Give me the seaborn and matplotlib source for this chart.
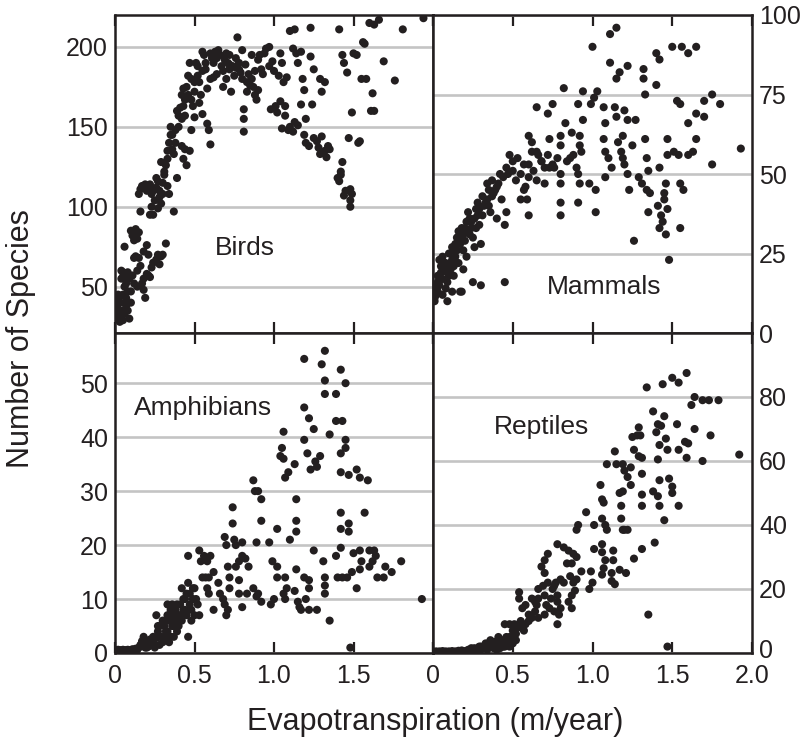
import matplotlib
matplotlib.use("Agg")
import matplotlib.pyplot as plt
import matplotlib.transforms as mtransforms
import seaborn as sns
import pandas as pd

# ---------------- data ----------------
birds_x = [0.01,0.02,0.02,0.03,0.03,0.04,0.04,0.05,0.01,0.03,0.05,0.04,0.05,0.02,0.04,0.05,0.06,
           0.06,0.07,0.07,0.08,0.08,0.09,0.06,0.10,0.09,0.10,
           0.10,0.11,0.12,0.13,0.14,0.15,0.12,0.13,0.15,
           0.15,0.16,0.17,0.16,0.17,0.18,0.19,0.18,0.20,0.19,0.20,
           0.21,0.22,0.23,0.21,0.22,0.23,0.24,0.22,0.24,0.25,0.23,
           0.26,0.27,0.28,0.29,0.26,0.27,0.28,0.29,0.30,0.27,0.30,0.29,
           0.31,0.32,0.33,0.33,0.32,0.34,0.34,0.35,0.35,
           0.36,0.37,0.38,0.38,0.37,0.39,0.40,0.39,
           0.41,0.42,0.43,0.42,0.44,0.42,0.43,0.44,0.45,0.45,0.44,
           0.46,0.47,0.48,0.48,0.49,0.47,0.48,0.50,0.50,
           0.51,0.52,0.53,0.53,0.54,0.55,0.55,0.55,
           0.56,0.57,0.58,0.58,0.59,0.60,0.60,0.60,
           0.61,0.62,0.63,0.64,0.62,0.65,
           0.66,0.67,0.68,0.69,0.70,0.68,0.70,
           0.71,0.72,0.73,0.74,0.75,0.72,
           0.77,0.76,0.78,0.79,0.80,0.80,
           0.81,0.81,0.81,0.82,0.83,0.84,0.85,
           0.86,0.87,0.88,0.89,0.90,0.88,0.90,
           0.91,0.92,0.93,0.94,0.95,
           0.97,0.98,0.99,1.00,0.97,
           1.01,1.02,1.03,1.04,1.05,1.05,1.04,
           1.07,1.07,1.08,1.09,1.10,1.06,1.10,
           1.12,1.13,1.14,1.15,1.13,1.12,1.15,
           1.17,1.18,1.19,1.20,1.20,1.19,1.17,
           1.23,1.23,1.24,1.25,1.22,1.25,
           1.27,1.28,1.29,1.30,1.30,1.29,
           1.32,1.32,1.33,1.34,1.35,
           1.41,1.40,1.41,1.42,1.43,1.44,1.43,1.42,1.45,1.44,
           1.46,1.47,1.48,1.48,1.49,1.48,1.49,1.50,
           1.52,1.53,1.54,1.56,1.57,1.55,1.58,1.60,
           1.61,1.63,1.63,1.62,1.66,1.69,
           1.76,1.81,1.94,
           0.02,0.06,0.07,0.08,0.11,0.12,0.14,0.14,0.16,0.18,0.20,0.21,0.24,0.26,0.28,
           0.30,0.31,0.33,0.36,0.40,0.43,0.46,0.50,0.52,0.57,0.64,0.72,0.76,0.78,0.83,0.86]
birds_y = [33,30,36,28,40,32,35,29,38,44,45,55,59,42,60,56,75,
           50,43,38,35,59,55,33,47,30,40,
           85,82,79,86,80,84,68,69,68,
           108,111,113,97,52,55,43,48,58,114,110,
           112,114,108,57,56,62,65,95,95,104,100,
           118,116,106,102,67,70,64,69,70,99,108,128,
           120,126,130,113,77,108,140,145,150,
           136,133,148,140,97,160,157,118,
           162,170,174,155,157,138,130,136,126,175,167,
           182,190,180,167,163,135,148,156,172,
           190,188,178,165,170,197,158,185,
           195,186,174,152,148,196,139,180,
           193,190,197,183,181,198,
           195,188,185,192,180,175,196,
           190,186,172,188,182,195,
           206,193,190,184,180,198,
           161,155,147,189,178,183,176,
           195,175,170,167,173,185,192,
           195,186,183,196,199,
           200,161,191,185,188,
           163,159,182,196,190,149,166,
           163,157,181,148,150,178,210,
           199,153,196,190,211,147,151,
           197,180,173,140,155,145,164,
           212,194,164,143,138,186,
           141,137,180,172,144,133,
           178,135,131,138,136,
           211,118,116,120,195,190,128,122,110,107,
           184,143,104,100,108,111,159,196,
           195,140,141,203,202,180,180,215,
           160,160,214,171,217,191,
           179,211,218,
           45,40,52,47,57,52,60,50,63,72,76,70,110,112,110,
           115,122,135,145,150,163,170,178,182,190,193,189,187,186,172,180]

mammals_x = [0.01,0.02,0.03,0.02,0.01,0.03,
             0.04,0.05,0.06,0.04,0.06,
             0.08,0.09,0.10,0.12,0.11,
             0.10,0.11,0.13,0.14,0.12,
             0.17,0.18,
             0.15,0.16,0.17,0.19,0.18,
             0.25,0.30,0.45,
             0.24,0.25,0.27,0.28,0.30,0.26,0.23,0.29,0.22,
             0.32,0.34,0.36,0.38,0.40,0.35,0.31,
             0.34,0.37,0.40,
             0.43,0.46,0.45,
             0.48,0.50,
             0.52,0.55,0.57,0.60,0.60,0.55,
             0.59,0.60,0.60,0.62,0.65,0.65,0.65,0.70,
             0.68,0.72,0.73,0.72,0.75,0.73,
             0.76,0.80,0.78,0.80,0.80,0.80,0.80,0.80,
             0.82,0.83,0.87,0.88,0.90,0.93,0.91,0.91,0.91,
             0.92,0.92,0.94,0.94,0.92,0.98,0.99,1.00,1.01,1.03,
             1.02,1.02,1.07,1.08,1.07,1.08,1.10,1.12,1.08,
             1.11,1.15,1.11,1.14,1.15,1.17,1.15,
             1.16,1.18,1.20,1.22,1.19,1.19,1.20,1.22,1.22,1.23,1.25,1.26,1.27,
             1.29,1.31,1.32,1.32,1.33,1.33,1.34,1.35,1.34,1.36,1.35,
             1.40,1.42,1.40,1.42,1.41,1.43,1.44,1.42,1.47,1.46,1.45,1.45,1.46,1.47,1.47,1.48,
             1.50,1.51,1.53,1.55,1.54,1.55,1.57,1.55,1.56,
             1.60,1.60,1.60,1.63,1.65,1.65,1.65,1.70,1.70,1.75,1.75,1.80,1.93,
             0.50,0.53,0.57,0.62,0.66,0.70,0.75,0.84,0.86,0.58,0.63,0.68,
             0.02,0.03,0.05,0.07,0.08,0.09,0.10,0.12,0.13,0.14,0.15,0.16,0.18,0.19,0.20,
             0.20,0.21,0.22,0.23,0.24,0.26,0.27,0.28,0.29,0.31,0.33,0.35,0.37,0.39,0.41,
             0.42,0.44,0.46,0.47,0.06,0.09,0.13,0.16,0.21,0.19]
mammals_y = [11,12,13,15,10,18,
             23,19,17,15,24,
             14,16,18,13,20,
             25,22,26,24,27,
             13,13,
             30,32,28,26,33,
             16,15,16,
             35,30,33,37,28,27,31,34,38,
             40,42,38,44,36,45,43,
             47,48,46,
             42,38,34,
             56,54,
             48,50,45,49,53,42,
             42,37,62,60,57,71,48,47,
             54,56,52,69,72,61,
             52,50,55,62,59,47,41,37,
             77,66,63,56,52,57,50,41,72,
             62,59,76,67,47,47,72,90,74,76,
             45,38,71,66,61,57,55,52,49,
             94,96,85,71,80,82,68,
             60,57,53,50,55,62,70,67,84,45,59,29,67,
             49,47,83,80,75,61,55,51,45,44,38,
             88,86,78,52,40,37,35,33,39,31,44,42,47,61,56,23,
             90,57,73,72,56,47,45,33,90,
             88,66,56,57,90,69,61,73,68,75,53,72,58,
             51,55,53,57,56,52,53,54,55,46,51,54,
             14,16,21,20,22,19,21,23,21,28,26,29,30,31,29,
             33,35,32,36,33,36,39,41,39,37,41,40,43,45,47,
             50,49,52,50,12,10,18,22,24,20]

amph_x = [0.00,0.01,0.02,0.03,0.04,0.05,0.06,0.07,0.08,0.09,0.10,0.11,0.12,0.13,0.14,0.15,
          0.16,0.17,0.18,0.19,0.20,0.21,0.22,0.23,0.24,0.25,0.26,0.27,0.28,
          0.26,0.27,
          0.28,0.30,0.31,0.32,0.33,0.34,0.35,0.36,0.37,0.38,0.39,0.40,0.33,0.36,0.39,
          0.41,0.42,0.43,0.44,0.45,0.46,0.47,0.48,0.49,0.50,0.46,0.50,0.52,0.53,
          0.46,0.53,0.54,0.56,0.58,0.60,0.55,0.57,0.59,
          0.58,0.59,0.62,0.62,0.65,
          0.66,0.68,0.69,0.70,0.71,0.69,0.70,0.71,0.72,
          0.74,0.74,0.75,0.76,0.72,0.76,0.78,0.78,0.78,0.80,0.80,0.80,0.82,0.84,0.83,
          0.87,0.88,0.90,0.92,0.92,0.89,0.87,0.90,0.92,0.89,
          0.97,0.98,0.99,1.00,1.02,1.02,1.02,
          1.04,1.06,1.07,1.05,1.06,1.07,1.06,1.08,1.07,1.09,1.10,
          1.13,1.14,1.14,1.14,1.14,1.13,1.15,1.16,1.17,
          1.19,1.19,1.22,1.19,1.21,1.23,1.26,1.27,1.19,1.22,1.22,1.20,1.22,1.25,1.25,1.27,
          1.29,1.30,1.32,1.32,1.32,1.31,1.32,1.32,1.32,1.35,1.35,
          1.39,1.39,1.43,1.39,1.40,1.42,1.42,1.42,1.42,1.42,1.42,1.43,1.46,
          1.45,1.45,1.45,1.47,1.47,1.47,1.48,1.49,1.50,1.52,1.52,1.54,1.54,1.54,1.55,
          1.57,1.59,1.60,1.60,1.62,1.63,1.64,1.65,1.69,1.70,1.74,1.80,1.93,
          0.30,0.31,0.33,0.34,0.35,0.36,0.37,0.38,0.40,0.41,0.42,0.43,0.44,0.45,0.47,
          0.48,0.49,0.51,0.29,0.32,0.24,0.20,0.35]
amph_y = [0.5,0.5,0.6,0.5,0.5,0.6,0.5,0.5,0.6,0.5,0.5,0.7,0.5,0.8,0.6,1.0,
          1.5,2.2,3.0,1.0,2.0,1.2,2.5,1.6,3.0,1.0,2.8,4.0,1.5,
          7,5,
          5,6,3,4,7,2,8,5,3,6,4,7,9,9,9,
          7,12,10,8,11,13,9,6,10,12,3,7,9,7,
          18,19,17,18,17,18,14,14,14,
          12,11,8,15,13,
          11,10,9,7,8,21.5,20,16,14,
          27,24,21,20,12,16,17,13.5,11,8.5,20.5,18,17.5,16,11,
          32,30,30,28.5,24.5,20.5,12,11,9.5,10.5,
          20.5,9,17,10,23,16,14,
          36.5,36,32.5,38,41,14,11,12,10,33.5,21,
          35,28.5,24.5,22.5,15.5,11.5,9.5,8.5,8,
          54.5,45.5,43.5,39.5,37,34,35.5,34.5,14,13.5,12,10,8,41.5,19,8,
          36.5,53.5,56,50.5,48,17,14,12.5,11,40.5,6,
          48,43,43,18,14,52.5,37,33.5,26,23,19.5,14,14,
          50,39.5,38,33,24,22.5,1,15,18.5,34,12,32.5,15.5,19,17,
          26,32,19,16,17,19,18,14,14,16,15,17,10,
          2,5,4,6,3,7,5,8,5,9,6,8,10,7,11,
          8,12,10,3,6,2,1,6]

rept_x = [0.00,0.02,0.04,0.06,0.08,0.10,0.12,0.14,0.16,0.18,0.20,0.22,0.24,0.25,0.26,0.27,0.28,0.29,0.30,
          0.24,0.27,0.30,0.32,0.33,0.34,0.35,0.36,0.37,0.38,0.39,0.40,0.41,0.42,0.43,0.44,0.45,0.46,0.47,
          0.45,0.48,0.48,0.50,0.52,0.50,
          0.53,0.55,0.57,0.60,0.54,0.54,0.56,0.58,
          0.62,0.64,0.66,0.65,0.66,
          0.68,0.70,0.72,0.70,0.69,0.72,0.71,0.70,0.74,
          0.75,0.77,0.78,0.78,0.80,0.78,0.79,0.80,0.76,0.78,
          0.82,0.85,0.88,0.90,0.84,0.87,0.86,0.88,0.90,0.87,0.89,0.85,0.87,
          0.91,0.90,0.96,0.93,0.98,1.00,0.99,1.01,1.01,
          1.05,1.06,1.07,1.06,1.08,1.09,1.06,1.06,1.08,1.07,1.06,1.09,
          1.13,1.13,1.12,1.12,1.14,1.14,1.15,
          1.19,1.20,1.22,1.24,1.17,1.19,1.18,1.18,1.20,1.22,1.19,1.17,1.21,
          1.24,1.25,1.28,1.30,1.26,1.29,1.29,1.31,1.31,1.31,1.31,1.26,1.31,
          1.34,1.35,1.38,1.41,1.43,1.40,1.42,1.38,1.41,1.42,1.39,1.41,1.42,
          1.44,1.45,1.46,1.47,1.45,1.47,1.48,1.50,1.50,1.50,
          1.53,1.54,1.54,1.54,1.58,1.60,1.59,1.59,1.62,1.64,1.64,1.69,1.73,1.69,1.74,1.79,1.92,
          0.36,0.38,0.40,0.42,0.44,0.46,0.48,0.50,0.51,0.52,0.55,0.58,0.60,0.62,0.64,
          0.66,0.70,0.73,0.76,0.82]
rept_y = [0.5,0.5,0.5,0.6,0.5,0.5,0.6,0.5,0.7,0.8,0.6,1.0,1.2,0.5,1.5,0.8,1.4,2.0,1.0,
          1.5,1.0,2.0,1.5,3.0,1.0,2.5,4.0,2.0,1.5,3.5,2.5,5.0,1.5,3.0,4.0,2.0,5.0,3.5,
          9,9,5,3,6,7,
          8,10,7,10,19,17,14,15,
          17,13,11,15,20,
          27,29,31,25,21,22,15,12,17,
          20,22,18,16,14,9,12,23,13,34,
          33,32,31,30,28,28,24,22,23,18,19.5,16,14,
          40,38.5,44,25.5,20,22,25.5,40,32.5,
          52.5,48,47,42,40,38.5,34,31.5,29,26.5,24.5,59,
          32,29,25,22.5,21.5,63,59,
          59,57,55,58,50,50.5,46,42,38.5,38.5,38.5,26,25,
          52.5,67.5,68,68,63.5,70.5,61.5,61,56,49.5,46,29.5,32.5,
          83,12,75.5,71.5,71,69,65,50.5,49,46,34.5,60.5,54,
          84,74,67,63.5,41.5,2,54.5,52,50,86,
          71.5,63.5,46,84.5,66,65.5,87.5,61,77.5,80,70,79,79,60,68,79,62,
          2,3,1,4,2,3,2,5,9,4,8,9,12,11,16,
          17,18,14,21,22]

# ---------------- style ----------------
sns.set_style("white")
plt.rcParams['font.family'] = ['Liberation Sans', 'DejaVu Sans']

INK = "#231f20"
GRID = "#c4c4c4"

fig = plt.figure(figsize=(8.06, 7.43), dpi=100)
W, H = 806.0, 743.0

def axes_px(x0, y0, x1, y1):
    return fig.add_axes([x0 / W, 1 - y1 / H, (x1 - x0) / W, (y1 - y0) / H])

ax_b = axes_px(115, 15, 433, 333)
ax_m = axes_px(433, 15, 752, 333)
ax_a = axes_px(115, 333, 433, 653)
ax_r = axes_px(433, 333, 752, 653)

panels = [
    (ax_b, birds_x, birds_y, (21, 220), [50, 100, 150, 200], "Birds", (0.409, 0.267), 'left', False, None),
    (ax_m, mammals_x, mammals_y, (0, 100), [0, 25, 50, 75, 100], "Mammals", (0.536, 0.145), 'right', False, None),
    (ax_a, amph_x, amph_y, (0, 59.3), [0, 10, 20, 30, 40, 50], "Amphibians", (0.277, 0.766), 'left', True,
     ['0', '0.5', '1.0', '1.5', '']),
    (ax_r, rept_x, rept_y, (0, 100), [0, 20, 40, 60, 80], "Reptiles", (0.339, 0.706), 'right', True,
     ['0', '0.5', '1.0', '1.5', '2.0']),
]

xticks = [0, 0.5, 1.0, 1.5, 2.0]

for ax, xs, ys, ylim, yticks, name, pos, side, showx, xlabels in panels:
    df = pd.DataFrame({"x": xs, "y": ys})
    ax.set_axisbelow(True)
    sns.scatterplot(data=df, x="x", y="y", ax=ax, color=INK, s=34,
                    edgecolor="none", linewidth=0, zorder=3, legend=False)
    ax.set_xlim(0, 2.0)
    ax.set_ylim(*ylim)
    ax.set_xticks(xticks)
    ax.set_yticks(yticks)
    ax.yaxis.grid(True, color=GRID, linewidth=1.9)
    ax.xaxis.grid(False)
    ax.set_xlabel("")
    ax.set_ylabel("")
    for sp in ax.spines.values():
        sp.set_visible(True)
        sp.set_color(INK)
        sp.set_linewidth(1.8)
    ax.tick_params(axis='x', direction='in', top=True, bottom=True, length=8,
                   width=1.6, color=INK, labelsize=18, labelcolor=INK, pad=8,
                   labelbottom=showx)
    if showx:
        ax.set_xticklabels(xlabels)
    if side == 'left':
        ax.tick_params(axis='y', length=0, labelsize=18, labelcolor=INK, pad=5,
                       labelleft=True, labelright=False)
    else:
        ax.tick_params(axis='y', length=0, labelsize=18, labelcolor=INK, pad=5,
                       labelleft=False, labelright=True)
    ax.text(pos[0], pos[1], name, transform=ax.transAxes, ha='center', va='center',
            fontsize=19, color=INK)

# nudge the lowest right-hand "0" label up a little so it clears "2.0"
for lab in ax_r.get_yticklabels():
    if lab.get_text() == '0':
        lab.set_transform(lab.get_transform() +
                          mtransforms.ScaledTranslation(0, 3 / 72, fig.dpi_scale_trans))

fig.text(435 / W, 1 - 722 / H, "Evapotranspiration (m/year)", ha='center', va='center',
         fontsize=22, color=INK)
fig.text(21 / W, 1 - 339 / H, "Number of Species", ha='center', va='center',
         rotation=90, fontsize=22, color=INK)

fig.savefig("out.png", dpi=100)
